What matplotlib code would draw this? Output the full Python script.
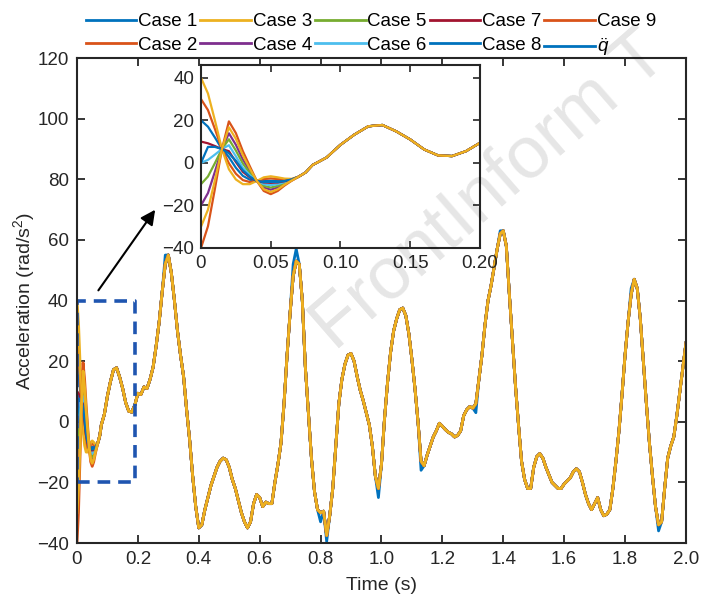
import numpy as np
import matplotlib
matplotlib.use('Agg')
import matplotlib.pyplot as plt
from matplotlib.lines import Line2D

plt.rcParams['font.family'] = ['Liberation Sans', 'DejaVu Sans']
plt.rcParams['mathtext.fontset'] = 'custom'
plt.rcParams['mathtext.rm'] = 'Liberation Sans'
plt.rcParams['mathtext.it'] = 'Liberation Sans:italic'
plt.rcParams['axes.unicode_minus'] = True

# start-up part (0 ... 0.075 s), one row per curve
t_early = [0, 0.005, 0.01, 0.015, 0.02, 0.025, 0.03, 0.035, 0.04, 0.045, 0.05, 0.055, 0.06, 0.065, 0.07, 0.075]
early = {
    'Case 1': [20, 17.0, 11.9, 6.5, 2.7, -2.3, -6.1, -7.9, -8.5, -8.4, -8.4, -8.4, -8.2, -7.8, -6.5, -4.5],
    'Case 2': [30, 24.8, 15.9, 6.5, -0.2, -5.1, -8.1, -9.0, -8.5, -7.6, -7.3, -7.6, -7.8, -7.7, -6.5, -4.5],
    'Case 3': [40, 32.6, 19.9, 6.5, -3.0, -7.8, -10.0, -10.0, -8.5, -6.8, -6.3, -6.8, -7.4, -7.5, -6.5, -4.5],
    'Case 4': [-20, -14.2, -4.1, 6.5, 13.9, 8.5, 1.6, -3.7, -8.5, -11.6, -12.6, -11.6, -9.8, -8.2, -6.5, -4.5],
    'Case 5': [-10, -6.4, -0.1, 6.5, 11.1, 5.8, -0.3, -4.8, -8.5, -10.8, -11.6, -10.8, -9.4, -8.1, -6.5, -4.5],
    'Case 6': [0, 1.4, 3.9, 6.5, 8.3, 3.1, -2.3, -5.8, -8.5, -10.0, -10.5, -10.0, -9.0, -8.0, -6.5, -4.5],
    'Case 7': [10, 9.2, 7.9, 6.5, 5.5, 0.4, -4.2, -6.8, -8.5, -9.2, -9.4, -9.2, -8.6, -7.9, -6.5, -4.5],
    'Case 8': [0, 7.5, 7.5, 6.5, 4.5, 1.0, -3.5, -6.5, -8.5, -9.0, -9.0, -9.0, -8.5, -7.8, -6.5, -4.5],
    'Case 9': [-40, -29.8, -12.1, 6.5, 19.5, 14.0, 5.5, -1.6, -8.5, -13.2, -14.7, -13.2, -10.6, -8.4, -6.5, -4.5],
    'qdd': [-30, -22.0, -8.1, 6.5, 16.7, 11.3, 3.6, -2.7, -8.5, -12.4, -13.7, -12.4, -10.2, -8.3, -6.5, -4.5],
}

# common part, 0.08 ... 2.00 s every 0.01 s
t_common = np.arange(8, 201) / 100
common = [
    -1, 2.5, 8.5, 13.3, 17.2, 17.8, 14.8, 11, 6.3, 3.5, 3.2, 5.5, 9.4,          # 0.08-0.20
    9, 11.5, 11, 14, 18, 25, 33, 43, 52, 55,                                     # -0.30
    49, 40, 30, 22, 15, 4, -6, -18, -28, -35,                                    # -0.40
    -34, -29, -25, -21, -18, -15, -13, -12, -12.5, -15,                          # -0.50
    -19, -22, -26, -30, -33, -35, -33, -27, -24, -25,                            # -0.60
    -28, -26.5, -27, -27, -20, -14, -7, 6, 22, 36,                               # -0.70
    48, 53, 52, 40, 18, 3, -12, -23, -29, -30,                                   # -0.80
    -29.5, -37.5, -31, -22, -8, 6, 14, 19, 22, 22.5,                             # -0.90
    20, 15, 10.5, 7, 3, -1, -8, -18, -22, -14,                                   # -1.00
    1, 13, 23, 30, 34, 37, 37.5, 35, 29, 20.5,                                   # -1.10
    11, 0, -13, -14.5, -11, -8, -5, -3, -0.5, -1.5,                              # -1.20
    -2.6, -3.5, -4, -5, -4.5, -3, 2, 4, 5, 4.5,                                  # -1.30
    6, 14, 22, 32, 40, 45, 51, 57, 62, 63,                                       # -1.40
    58, 42, 27, 12, -1, -13, -19, -22, -22, -15,                                 # -1.50
    -11.5, -10.5, -12, -15, -17.5, -20, -21, -22, -22, -20.5,                    # -1.60
    -19.5, -18.5, -16.5, -15.5, -16.5, -20, -24, -27, -29, -27,                  # -1.70
    -25, -29, -31, -30.5, -29, -22, -13, -3, 9, 22,                              # -1.80
    33, 42, 47, 44, 34, 20, 6, -7, -18, -28,                                     # -1.90
    -34, -33, -22, -12, -8, -5, 2, 10, 18, 26,                                   # -2.00
]
# where the Case 1 curve sits off the others
case1_offset = {0.29: 3, 0.71: 4, 0.72: 4, 0.80: -3, 0.82: -2, 0.99: -3,
                1.13: -3, 1.31: -3, 1.39: 1, 1.82: 2, 1.91: -2}

names = ['Case 1', 'Case 2', 'Case 3', 'Case 4', 'Case 5', 'Case 6',
         'Case 7', 'Case 8', 'Case 9', 'qdd']
labels = ['Case 1', 'Case 2', 'Case 3', 'Case 4', 'Case 5', 'Case 6',
          'Case 7', 'Case 8', 'Case 9', r'$\ddot{q}$']
colors = ['#0072BD', '#D95319', '#EDB120', '#7E2F8E', '#77AC30', '#4DBEEE',
          '#A2142F', '#0072BD', '#D95319', '#EDB120']
legend_colors = colors[:9] + ['#0072BD']

t_all = np.concatenate([t_early, t_common])
curves = {}
for n in names:
    c = np.array(common, dtype=float)
    if n == 'Case 1':
        for tk, dv in case1_offset.items():
            c[int(round(tk * 100)) - 8] += dv
    curves[n] = np.concatenate([early[n], c])

fig = plt.figure(figsize=(7.05, 6.12), dpi=100)
ax = fig.add_axes([0.1092, 0.1127, 0.8638, 0.7925])
for n, col in zip(names, colors):
    ax.plot(t_all, curves[n], color=col, lw=2.0)

ax.set_xlim(0, 2.0)
ax.set_ylim(-40, 120)
ax.set_xticks(np.arange(0, 2.01, 0.2))
ax.set_xticklabels(['0', '0.2', '0.4', '0.6', '0.8', '1.0', '1.2', '1.4', '1.6', '1.8', '2.0'])
ax.set_yticks(np.arange(-40, 121, 20))
ax.tick_params(direction='in', top=True, right=True, length=6, width=1.3,
               labelsize=13.5, colors='#262626', pad=6)
for s in ax.spines.values():
    s.set_linewidth(1.5)
    s.set_color('#262626')
ax.set_xlabel('Time (s)', fontsize=14, color='#262626', labelpad=6)
ax.set_ylabel('Acceleration (rad/s$^2$)', fontsize=14, color='#262626', labelpad=0)

# zoom box and arrow
ax.plot([0, 0.19, 0.19, 0, 0], [-20, -20, 40, 40, -20], ls=(0, (3.5, 2.2)),
        color='#1F55B0', lw=2.6)
ax.annotate('', xy=(0.262, 70.7), xytext=(0.065, 42.6),
            arrowprops=dict(arrowstyle='-|>', color='k', lw=1.5, mutation_scale=22))

# inset
axi = fig.add_axes([0.2851, 0.5948, 0.3957, 0.299])
for n, col in zip(names, colors):
    axi.plot(t_all, curves[n], color=col, lw=1.6)
axi.set_xlim(0, 0.2)
axi.set_ylim(-40, 46)
axi.set_xticks([0, 0.05, 0.10, 0.15, 0.20])
axi.set_xticklabels(['0', '0.05', '0.10', '0.15', '0.20'])
axi.set_yticks([-40, -20, 0, 20, 40])
axi.tick_params(direction='in', top=True, right=True, length=5, width=1.2,
                labelsize=13.5, colors='#262626', pad=5)
for s in axi.spines.values():
    s.set_linewidth(1.5)
    s.set_color('#262626')

handles = [Line2D([], [], color=c, lw=2.0) for c in legend_colors]
fig.legend(handles, labels, ncol=5, loc='upper center', bbox_to_anchor=(0.526, 1.006),
           frameon=False, fontsize=13.5, handlelength=2.7, handletextpad=0.1,
           columnspacing=0.15, labelspacing=0.35)

fig.text(0.475, 0.425, 'FrontInform T', rotation=41, rotation_mode='anchor',
         fontsize=53, color='black', alpha=0.1, ha='left', va='baseline')

fig.savefig('out.png', dpi=100)
